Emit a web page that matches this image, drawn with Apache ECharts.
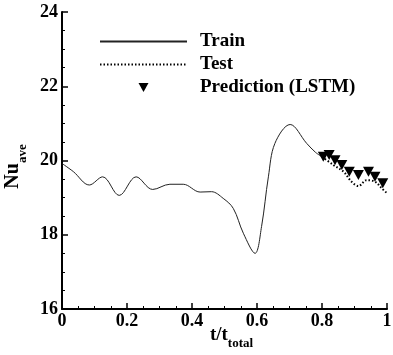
<!DOCTYPE html>
<html><head><meta charset="utf-8">
<script src="https://cdn.jsdelivr.net/npm/echarts@6/dist/echarts.min.js"></script>
<style>html,body{margin:0;padding:0;background:#fff}#c{width:393px;height:355px}</style>
</head><body><div id="c"></div>
<script>
const FONT = 'Liberation Serif';
const seriesNames = ['Train', 'Test', 'Prediction (LSTM)'];
const trainX = [0.000, 0.035, 0.084, 0.125, 0.176, 0.228, 0.279, 0.332, 0.373, 0.425, 0.460, 0.496, 0.527, 0.558, 0.594, 0.614, 0.635, 0.655, 0.702, 0.753, 0.780, 0.800];
const trainY = [19.92, 19.70, 19.34, 19.56, 19.06, 19.56, 19.22, 19.36, 19.36, 19.15, 19.16, 18.98, 18.71, 18.04, 17.50, 18.22, 19.56, 20.46, 20.97, 20.46, 20.22, 20.10];
const testX = [0.800, 0.835, 0.866, 0.891, 0.912, 0.937, 0.963, 0.984, 1.000];
const testY = [20.10, 19.88, 19.70, 19.43, 19.31, 19.47, 19.43, 19.25, 19.12];
const predX = [0.804, 0.822, 0.840, 0.861, 0.884, 0.912, 0.943, 0.963, 0.987];
const predY = [20.10, 20.15, 20.01, 19.88, 19.70, 19.61, 19.70, 19.56, 19.39];
const xRange = [0, 1], xStep = 0.2;
const yRange = [16, 24], yStep = 2;

const zip = (a, b) => a.map((v, i) => [v, b[i]]);
const downTri = 'path://M0,0 L10,0 L5,9 Z';
const labelStyle = { fontFamily: FONT, fontWeight: 'bold', fontSize: 18, color: '#000' };

const chart = echarts.init(document.getElementById('c'), null, { renderer: 'canvas' });
chart.setOption({
  animation: false,
  backgroundColor: '#fff',
  grid: { left: 62, right: 6, top: 12, bottom: 46, containLabel: false, outerBoundsMode: 'none' },
  legend: {
    orient: 'vertical', left: 99, top: 32, selectedMode: false, padding: 0,
    itemWidth: 87, itemHeight: 9, itemGap: 4,
    textStyle: { fontFamily: FONT, fontWeight: 'bold', fontSize: 19, color: '#000', padding: [0, 0, 0, 8] },
    data: [
      { name: seriesNames[0], itemStyle: { opacity: 0 } },
      { name: seriesNames[1], itemStyle: { opacity: 0 } },
      { name: seriesNames[2] }
    ]
  },
  xAxis: {
    type: 'value', min: xRange[0], max: xRange[1], interval: xStep,
    axisLine: { lineStyle: { color: '#000', width: 2 } },
    axisTick: { inside: true, length: 6, lineStyle: { color: '#000', width: 1.5 } },
    minorTick: { show: true, splitNumber: 4, length: 3, lineStyle: { color: '#000', width: 1 } },
    splitLine: { show: false },
    axisLabel: Object.assign({ margin: 3 }, labelStyle),
    name: '{a|t/t}{b|total}', nameLocation: 'middle', nameGap: 17, nameMoveOverlap: false,
    nameTextStyle: { padding: [0, 0, 0, 14], rich: {
      a: { fontFamily: FONT, fontWeight: 'bold', fontSize: 19, color: '#000', verticalAlign: 'top', lineHeight: 24 },
      b: { fontFamily: FONT, fontWeight: 'bold', fontSize: 13, color: '#000', verticalAlign: 'bottom', lineHeight: 24 }
    } }
  },
  yAxis: {
    type: 'value', min: yRange[0], max: yRange[1], interval: yStep,
    axisLine: { show: true, lineStyle: { color: '#000', width: 2 } },
    axisTick: { show: true, inside: true, length: 6, lineStyle: { color: '#000', width: 1.5 } },
    minorTick: { show: true, splitNumber: 4, length: 3, lineStyle: { color: '#000', width: 1 } },
    splitLine: { show: false },
    axisLabel: Object.assign({ margin: 4 }, labelStyle),
    name: '{a|Nu}{b|ave}', nameLocation: 'middle', nameGap: 28, nameRotate: 90,
    nameTextStyle: { padding: [0, 12, 0, 0], rich: {
      a: { fontFamily: FONT, fontWeight: 'bold', fontSize: 20, color: '#000', verticalAlign: 'top', lineHeight: 26 },
      b: { fontFamily: FONT, fontWeight: 'bold', fontSize: 13, color: '#000', verticalAlign: 'bottom', lineHeight: 26 }
    } }
  },
  series: [
    { name: seriesNames[0], type: 'line', data: zip(trainX, trainY), smooth: 0.35, symbol: 'none',
      lineStyle: { color: '#222', width: 1 }, itemStyle: { color: '#222' }, z: 2 },
    { name: seriesNames[1], type: 'line', data: zip(testX, testY), smooth: 0.35, symbol: 'none',
      lineStyle: { color: '#000', width: 2, type: [1.5, 2] }, itemStyle: { color: '#000' }, z: 2 },
    { name: seriesNames[2], type: 'scatter', data: zip(predX, predY), symbol: downTri, symbolSize: [11, 10],
      itemStyle: { color: '#000', opacity: 1 }, z: 3 }
  ]
});
</script></body></html>
